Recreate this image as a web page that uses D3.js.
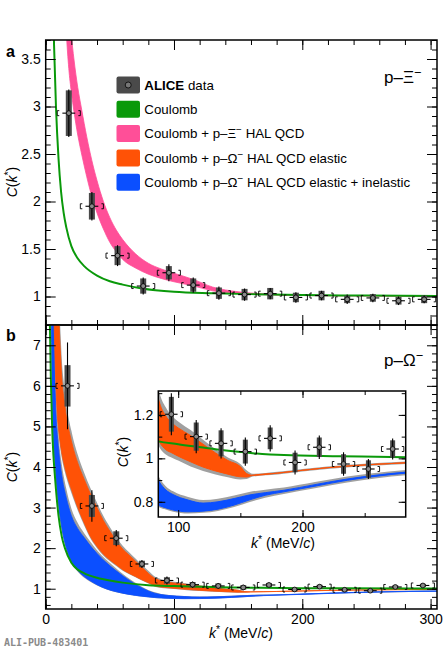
<!DOCTYPE html>
<html>
<head>
<meta charset="utf-8">
<script src="https://cdn.jsdelivr.net/npm/d3@7"></script>
<style>
  body { margin: 0; background: #fff; }
  svg { display: block; }
</style>
</head>
<body>
<svg id="chart" width="443" height="650"></svg>
<script>
// ---- data ----

// p-Xi data (panel a)
const xiK    = [18, 36, 56, 76, 96, 115, 135, 155, 175, 195, 215, 235, 255, 275, 295];
const xiC    = [2.93, 1.95, 1.43, 1.11, 1.25, 1.12, 1.035, 1.02, 1.03, 0.99, 1.01, 0.97, 0.985, 0.955, 0.97];
const xiStat = [0.25, 0.15, 0.11, 0.09, 0.09, 0.08, 0.07, 0.065, 0.06, 0.055, 0.05, 0.05, 0.045, 0.045, 0.04];
const xiSyst = [0.24, 0.14, 0.10, 0.08, 0.07, 0.07, 0.06, 0.06, 0.06, 0.05, 0.05, 0.04, 0.04, 0.04, 0.04];

// p-Omega data (panel b)
const omK    = [17, 36, 55, 75, 94.5, 114.5, 134.5, 154, 174, 194, 213.5, 233, 253, 272.5, 294];
const omC    = [6.0, 3.04, 2.245, 1.61, 1.203, 1.10, 1.069, 1.031, 1.092, 0.981, 1.051, 0.974, 0.951, 1.043, 1.08];
const omStat = [1.07, 0.39, 0.2, 0.1, 0.097, 0.077, 0.07, 0.065, 0.06, 0.055, 0.054, 0.054, 0.046, 0.048, 0.045];
const omSyst = [0.51, 0.27, 0.17, 0.08, 0.08, 0.065, 0.06, 0.055, 0.05, 0.045, 0.045, 0.045, 0.04, 0.04, 0.04];

// p-Xi Coulomb
const xiCoulK = [5.5, 6.5, 8, 10, 12, 14, 16, 20, 25, 30, 40, 50, 60, 75, 100, 130, 160, 200, 250, 305];
const xiCoulC = [4.3, 3.65, 3.0, 2.45, 2.1, 1.88, 1.73, 1.53, 1.40, 1.32, 1.22, 1.16, 1.125, 1.085, 1.05, 1.035, 1.025, 1.015, 1.01, 1.006];

// p-Xi HAL QCD band
const xiHalK  = [15, 16, 18, 20, 22, 25, 28, 32, 36, 40, 45, 50, 55, 60, 70, 80, 90, 100, 115, 130, 150, 175, 200, 250, 305];
const xiHalLo = [4.1, 3.8, 3.4, 3.15, 2.95, 2.7, 2.5, 2.26, 2.05, 1.88, 1.71, 1.57, 1.47, 1.39, 1.3, 1.235, 1.19, 1.155, 1.112, 1.06, 1.03, 1.017, 1.01, 1.005, 1.002];
const xiHalHi = [5.0, 4.6, 4.1, 3.75, 3.5, 3.2, 2.97, 2.68, 2.43, 2.22, 2.0, 1.83, 1.7, 1.6, 1.45, 1.35, 1.29, 1.245, 1.18, 1.1, 1.05, 1.025, 1.015, 1.008, 1.004];

// p-Omega Coulomb
const omCoulK = [3, 4, 5, 6, 7, 8, 10, 12.5, 15, 20, 25, 30, 40, 50, 60, 80, 100, 120, 135, 160, 185, 230, 284, 305];
const omCoulC = [8.0, 6.2, 5.0, 4.3, 3.85, 3.45, 2.8, 2.29, 2.0, 1.64, 1.47, 1.38, 1.27, 1.2, 1.15, 1.085, 1.065, 1.05, 1.038, 1.024, 1.015, 1.01, 1.005, 1.004];

// p-Omega HAL QCD elastic band (+ grey envelope)
const omElK      = [5, 6, 7, 8, 9, 10, 12, 15, 20, 25, 30, 35, 40, 45, 50, 55, 60, 65, 70, 75, 80, 85, 90, 95, 100, 110, 120, 130, 140, 150, 155, 160, 180, 200, 220, 240, 260, 285, 305];
const omElLo     = [12, 8.5, 7.0, 6.0, 5.3, 4.95, 4.45, 3.98, 3.45, 3.0, 2.62, 2.28, 2.04, 1.85, 1.71, 1.59, 1.47, 1.38, 1.3, 1.22, 1.15, 1.075, 1.04, 1.025, 1.01, 0.984, 0.96, 0.942, 0.927, 0.915, 0.914, 0.922, 0.932, 0.945, 0.957, 0.966, 0.973, 0.98, 0.984];
const omElHi     = [30, 22, 17, 13, 10.2, 8.2, 6.5, 5.5, 4.65, 4.1, 3.7, 3.33, 3.0, 2.68, 2.42, 2.18, 1.98, 1.83, 1.68, 1.53, 1.38, 1.255, 1.195, 1.162, 1.14, 1.105, 1.065, 1.025, 0.99, 0.962, 0.93, 0.922, 0.932, 0.945, 0.957, 0.966, 0.973, 0.98, 0.984];
const omElGrayLo = [11.5, 8.2, 6.75, 5.8, 5.13, 4.8, 4.32, 3.87, 3.36, 2.93, 2.56, 2.23, 2.0, 1.815, 1.68, 1.562, 1.445, 1.358, 1.28, 1.2, 1.13, 1.05, 1.018, 1.003, 0.99, 0.962, 0.942, 0.926, 0.913, 0.903, 0.905, 0.916, 0.926, 0.939, 0.951, 0.96, 0.967, 0.974, 0.978];
const omElGrayHi = [32, 24, 18.5, 14, 11, 8.9, 7.0, 5.85, 4.9, 4.3, 3.86, 3.47, 3.12, 2.79, 2.52, 2.27, 2.06, 1.9, 1.745, 1.59, 1.44, 1.3, 1.235, 1.195, 1.17, 1.13, 1.086, 1.042, 1.004, 0.974, 0.945, 0.929, 0.938, 0.951, 0.963, 0.972, 0.979, 0.986, 0.99];

// p-Omega HAL QCD elastic + inelastic band (+ grey envelope)
const omInK      = [4, 5, 6, 7, 8, 9, 10, 11, 13, 16, 20, 25, 30, 35, 40, 47, 55, 60, 65, 70, 75, 80, 85, 90, 96, 108, 120, 132, 145, 157, 170, 185, 210, 236, 260, 284, 305];
const omInLo     = [9.0, 5.9, 4.75, 4.22, 3.78, 3.4, 3.08, 2.82, 2.42, 2.02, 1.68, 1.45, 1.3, 1.19, 1.1, 1.0, 0.925, 0.89, 0.86, 0.835, 0.815, 0.797, 0.782, 0.772, 0.762, 0.754, 0.757, 0.766, 0.785, 0.808, 0.83, 0.846, 0.872, 0.899, 0.918, 0.932, 0.938];
const omInHi     = [20, 13, 9.0, 6.5, 5.3, 4.8, 4.45, 4.15, 3.7, 3.25, 2.8, 2.48, 2.26, 2.05, 1.87, 1.65, 1.44, 1.32, 1.21, 1.11, 1.02, 0.945, 0.89, 0.855, 0.833, 0.808, 0.794, 0.80, 0.815, 0.831, 0.842, 0.853, 0.879, 0.905, 0.923, 0.937, 0.943];
const omInGrayLo = [8.7, 5.75, 4.63, 4.12, 3.69, 3.32, 3.01, 2.75, 2.36, 1.97, 1.64, 1.42, 1.27, 1.165, 1.08, 0.985, 0.912, 0.878, 0.849, 0.825, 0.806, 0.789, 0.774, 0.764, 0.754, 0.746, 0.749, 0.758, 0.776, 0.798, 0.819, 0.836, 0.862, 0.889, 0.908, 0.922, 0.928];
const omInGrayHi = [22, 14, 9.8, 7.1, 5.8, 5.2, 4.8, 4.45, 3.97, 3.47, 2.98, 2.62, 2.37, 2.15, 1.95, 1.72, 1.5, 1.37, 1.25, 1.145, 1.05, 0.97, 0.91, 0.872, 0.848, 0.822, 0.808, 0.814, 0.829, 0.845, 0.856, 0.866, 0.891, 0.916, 0.934, 0.947, 0.953];

// ticks
const xTicks      = [0, 100, 200, 300];
const xiYTicks    = [1, 1.5, 2, 2.5, 3, 3.5];
const omYTicks    = [1, 2, 3, 4, 5, 6, 7];
const insetXTicks = [100, 200];
const insetYTicks = [0.8, 1, 1.2];

const legendLabels = [
  [{ t: "ALICE", b: true }, { t: " data" }],
  [{ t: "Coulomb" }],
  [{ t: "Coulomb + p–Ξ" }, { t: "−", sup: true }, { t: " HAL QCD" }],
  [{ t: "Coulomb + p–Ω" }, { t: "−", sup: true }, { t: " HAL QCD elastic" }],
  [{ t: "Coulomb + p–Ω" }, { t: "−", sup: true }, { t: " HAL QCD elastic + inelastic" }]
];

// ---- look ----
const FONT = '"Liberation Sans", Arial, Helvetica, sans-serif';
const GREEN = "#0a990a", PINK = "#ff4f98", ORANGE = "#ff5206", BLUE = "#0b4fff", GREY = "#a0a0a0";
const BOX = "#4a4a4a";
const binHalf = 5, bracketHalf = 9;

const svg = d3.select("#chart");
const defs = svg.append("defs");

const L = 45.7, R = 437, T = 40, MID = 325, B = 609;
const x  = d3.scaleLinear().domain([0, 305]).range([L, R]);
const yA = d3.scaleLinear().domain([0.7, 3.7]).range([MID, T]);
const yB = d3.scaleLinear().domain([0.5, 7.5]).range([B, MID]);

const IL = 158.3, IR = 405.7, IT = 391, IB = 517;
const xI = d3.scaleLinear().domain([84, 283]).range([IL, IR]);
const yI = d3.scaleLinear().domain([0.73, 1.31]).range([IB, IT]);

function clip(id, x0, y0, x1, y1) {
  defs.append("clipPath").attr("id", id)
    .append("rect").attr("x", x0).attr("y", y0).attr("width", x1 - x0).attr("height", y1 - y0);
}
clip("clipA", L, T, R, MID);
clip("clipB", L, MID, R, B);
clip("clipI", IL, IT, IR, IB);

function band(g, xs, ys, ks, lo, hi, fill, strokeW) {
  const data = ks.map((k, i) => ({ k: k, lo: lo[i], hi: hi[i] }));
  const area = d3.area()
    .x(d => xs(d.k)).y0(d => ys(d.lo)).y1(d => ys(d.hi))
    .curve(d3.curveMonotoneX);
  g.append("path").datum(data)
    .attr("d", area)
    .attr("fill", fill)
    .attr("stroke", strokeW ? fill : "none")
    .attr("stroke-width", strokeW || 0);
}

function curve(g, xs, ys, ks, vs, color, w) {
  const data = ks.map((k, i) => ({ k: k, v: vs[i] }));
  g.append("path").datum(data)
    .attr("d", d3.line().x(d => xs(d.k)).y(d => ys(d.v)).curve(d3.curveMonotoneX))
    .attr("fill", "none").attr("stroke", color).attr("stroke-width", w);
}

function points(g, xs, ys, ks, cs, stat, syst, boxW, r) {
  ks.forEach((k, i) => {
    if (k < xs.domain()[0] || k > xs.domain()[1]) return;
    const px = xs(k), py = ys(cs[i]);
    g.append("rect")
      .attr("x", px - boxW / 2).attr("width", boxW)
      .attr("y", ys(cs[i] + syst[i])).attr("height", ys(cs[i] - syst[i]) - ys(cs[i] + syst[i]))
      .attr("fill", BOX);
    g.append("line")
      .attr("x1", px).attr("x2", px)
      .attr("y1", ys(cs[i] + stat[i])).attr("y2", ys(cs[i] - stat[i]))
      .attr("stroke", "#000").attr("stroke-width", 1.1);
    g.append("line")
      .attr("x1", xs(k - binHalf)).attr("x2", xs(k + binHalf))
      .attr("y1", py).attr("y2", py)
      .attr("stroke", "#000").attr("stroke-width", 1.1);
    const bl = xs(k - bracketHalf), br = xs(k + bracketHalf);
    g.append("path")
      .attr("d", `M${bl + 2},${py - 2.5}H${bl}V${py + 2.5}H${bl + 2}M${br - 2},${py - 2.5}H${br}V${py + 2.5}H${br - 2}`)
      .attr("fill", "none").attr("stroke", "#000").attr("stroke-width", 0.9);
    g.append("circle")
      .attr("cx", px).attr("cy", py).attr("r", r)
      .attr("fill", "#8a8a8a").attr("stroke", "#000").attr("stroke-width", 0.8);
  });
}

function axis(g, gen, scale, values, len, transform, fmt) {
  const a = gen(scale).tickValues(values).tickSize(-len).tickPadding(5)
    .tickFormat(fmt || (() => ""));
  const s = g.append("g").attr("transform", transform).call(a);
  s.select(".domain").remove();
  s.selectAll("line").attr("stroke", "#000").attr("stroke-width", 1);
  s.selectAll("text").attr("font-family", FONT).attr("font-size", 14).attr("fill", "#000");
  return s;
}

function frameAxes(g, xs, ys, xMaj, xMin, yMaj, yMin, majLen, minLen, xLabels, yFmt) {
  const [x0, x1] = xs.range(), [y1, y0] = ys.range();
  const lab = d => String(d);
  axis(g, d3.axisLeft, ys, yMin, minLen, `translate(${x0},0)`);
  axis(g, d3.axisLeft, ys, yMaj, majLen, `translate(${x0},0)`, yFmt || lab);
  axis(g, d3.axisRight, ys, yMin, minLen, `translate(${x1},0)`);
  axis(g, d3.axisRight, ys, yMaj, majLen, `translate(${x1},0)`);
  axis(g, d3.axisTop, xs, xMin, minLen, `translate(0,${y0})`);
  axis(g, d3.axisTop, xs, xMaj, majLen, `translate(0,${y0})`);
  axis(g, d3.axisBottom, xs, xMin, minLen, `translate(0,${y1})`);
  axis(g, d3.axisBottom, xs, xMaj, majLen, `translate(0,${y1})`, xLabels ? lab : null);
  g.append("rect")
    .attr("x", x0).attr("y", y0).attr("width", x1 - x0).attr("height", y1 - y0)
    .attr("fill", "none").attr("stroke", "#000").attr("stroke-width", 1.5);
}

function richText(g, parts, size) {
  const t = g.append("text").attr("font-family", FONT).attr("font-size", size).attr("fill", "#000");
  let shifted = false;
  parts.forEach(p => {
    const ts = t.append("tspan").text(p.t);
    if (p.b) ts.attr("font-weight", "bold");
    if (p.i) ts.attr("font-style", "italic");
    if (p.sup) { ts.attr("dy", -size * 0.38).attr("font-size", size * 0.75); shifted = true; }
    else if (shifted) { ts.attr("dy", size * 0.38); shifted = false; }
  });
  return t;
}

const cLabel = [{ t: "C", i: true }, { t: "(" }, { t: "k", i: true }, { t: "*", sup: true }, { t: ")" }];
const kLabel = [{ t: "k", i: true }, { t: "*", sup: true }, { t: " (MeV/" }, { t: "c", i: true }, { t: ")" }];

// ---- panel a ----
const gA = svg.append("g");
const cA = gA.append("g").attr("clip-path", "url(#clipA)");
band(cA, x, yA, xiHalK, xiHalLo, xiHalHi, PINK, 0.8);
curve(cA, x, yA, xiCoulK, xiCoulC, GREEN, 2);
points(gA, x, yA, xiK, xiC, xiStat, xiSyst, 6, 2.4);
frameAxes(gA, x, yA, xTicks, d3.range(0, 305, 20), xiYTicks, d3.range(7, 38).map(v => v / 10), 10, 5, false);

richText(gA, cLabel, 14).attr("text-anchor", "middle").attr("transform", "translate(17,182) rotate(-90)");
richText(gA, [{ t: "a", b: true }], 16).attr("x", 6).attr("y", 57);
richText(gA, [{ t: "p–Ξ" }, { t: "−", sup: true }], 17).attr("x", 384).attr("y", 83);

// legend
const legColors = [BOX, GREEN, PINK, ORANGE, BLUE];
legendLabels.forEach((parts, i) => {
  const cy = 85 + i * 24.3;
  gA.append("rect").attr("x", 116.5).attr("y", cy - 8.5).attr("width", 23.5).attr("height", 17)
    .attr("rx", 2).attr("fill", legColors[i]);
  if (i === 0) {
    gA.append("circle").attr("cx", 128.2).attr("cy", cy).attr("r", 3)
      .attr("fill", "#777").attr("stroke", "#000").attr("stroke-width", 0.8);
  }
  richText(gA, parts, 13.3).attr("x", 144.3).attr("y", cy + 4.8);
});

// ---- panel b ----
const gB = svg.append("g");
const cB = gB.append("g").attr("clip-path", "url(#clipB)");
band(cB, x, yB, omInK, omInGrayLo, omInGrayHi, GREY);
band(cB, x, yB, omElK, omElGrayLo, omElGrayHi, GREY);
band(cB, x, yB, omInK, omInLo, omInHi, BLUE, 0.8);
band(cB, x, yB, omElK, omElLo, omElHi, ORANGE, 0.8);
curve(cB, x, yB, omCoulK, omCoulC, GREEN, 2);
points(gB, x, yB, omK, omC, omStat, omSyst, 6, 2.4);
frameAxes(gB, x, yB, xTicks, d3.range(0, 305, 20), omYTicks, d3.range(3, 38).map(v => v / 5), 10, 5, true);

richText(gB, cLabel, 14).attr("text-anchor", "middle").attr("transform", "translate(17,467) rotate(-90)");
richText(gB, kLabel, 14).attr("text-anchor", "middle").attr("x", 241).attr("y", 638);
richText(gB, [{ t: "b", b: true }], 16).attr("x", 6).attr("y", 341);
richText(gB, [{ t: "p–Ω" }, { t: "−", sup: true }], 17).attr("x", 384).attr("y", 366);

// ---- inset ----
const gI = svg.append("g");
gI.append("rect").attr("x", IL).attr("y", IT).attr("width", IR - IL).attr("height", IB - IT).attr("fill", "#fff");
const cI = gI.append("g").attr("clip-path", "url(#clipI)");
band(cI, xI, yI, omInK, omInGrayLo, omInGrayHi, GREY);
band(cI, xI, yI, omElK, omElGrayLo, omElGrayHi, GREY);
band(cI, xI, yI, omInK, omInLo, omInHi, BLUE, 1);
band(cI, xI, yI, omElK, omElLo, omElHi, ORANGE, 1);
curve(cI, xI, yI, omCoulK, omCoulC, GREEN, 2);
points(gI, xI, yI, omK, omC, omStat, omSyst, 5, 2.4);
frameAxes(gI, xI, yI, insetXTicks, [100, 150, 200, 250], insetYTicks, d3.range(8, 14).map(v => v / 10), 7, 4, true);

richText(gI, cLabel, 14).attr("text-anchor", "middle").attr("transform", "translate(128,452) rotate(-90)");
richText(gI, kLabel, 14).attr("text-anchor", "middle").attr("x", 283).attr("y", 548);

// ---- footer ----
svg.append("text").attr("x", 4).attr("y", 646)
  .attr("font-family", '"DejaVu Sans Mono", monospace').attr("font-size", 10).attr("font-weight", "bold")
  .attr("fill", "#8a8a8a").text("ALI-PUB-483401");
</script>
</body>
</html>
